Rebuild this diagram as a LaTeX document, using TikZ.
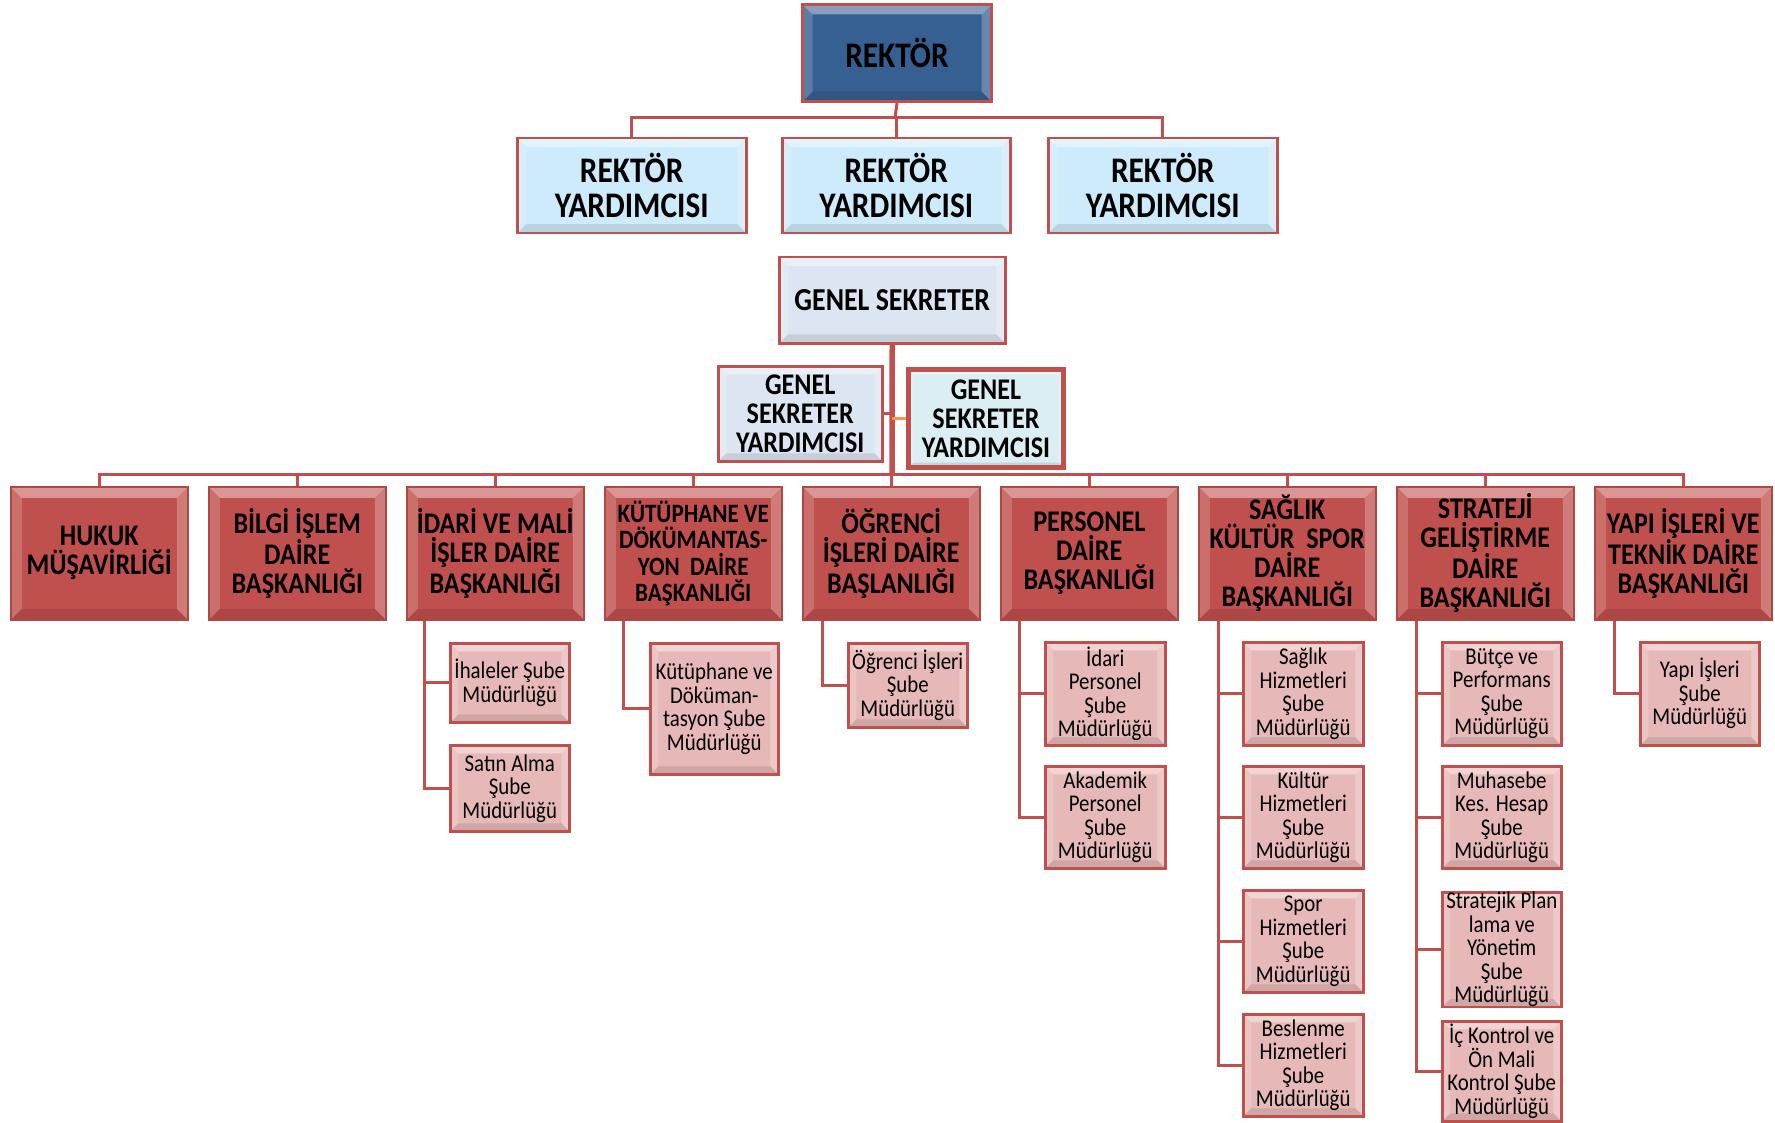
\documentclass[tikz,border=0pt]{standalone}
\usepackage{fontspec}
\setmainfont{Carlito}[FakeStretch=0.87]
\definecolor{bred}{HTML}{C0504D}
\definecolor{subfill}{HTML}{E6B9B8}
\definecolor{ryfill}{HTML}{CDEBFB}
\definecolor{gsfill}{HTML}{DCE6F2}
\definecolor{gsyfill}{HTML}{DAEEF3}
\definecolor{rekfill}{HTML}{376092}
\definecolor{orng}{HTML}{F79646}
\newcommand\Bx[7]{\node[#1,minimum width=#5pt,minimum height=#6pt,anchor=north west] (#2) at (#3,#4) {#7};}
\tikzset{
  bevel/.style={path picture={
    \path (path picture bounding box.north west) coordinate (bNW)
          (path picture bounding box.north east) coordinate (bNE)
          (path picture bounding box.south east) coordinate (bSE)
          (path picture bounding box.south west) coordinate (bSW);
    \fill[white,opacity=.40] (bNW) -- (bNE) -- ([xshift=-#1,yshift=-#1]bNE) -- ([xshift=#1,yshift=-#1]bNW) -- cycle;
    \fill[white,opacity=.18] (bNW) -- ([xshift=#1,yshift=-#1]bNW) -- ([xshift=#1,yshift=#1]bSW) -- (bSW) -- cycle;
    \fill[white,opacity=.25] (bNE) -- (bSE) -- ([xshift=-#1,yshift=#1]bSE) -- ([xshift=-#1,yshift=-#1]bNE) -- cycle;
    \fill[black,opacity=.10] (bSW) -- (bSE) -- ([xshift=-#1,yshift=#1]bSE) -- ([xshift=#1,yshift=#1]bSW) -- cycle;
  }},
  basebox/.style={draw=bred, inner sep=0pt, align=center, text=black},
  rek/.style={basebox, fill=rekfill, line width=3pt, bevel=10pt,
     font=\fontsize{36}{36}\selectfont\bfseries},
  ry/.style={basebox, fill=ryfill, line width=2.5pt, bevel=9pt,
     font=\fontsize{36}{35}\selectfont\bfseries},
  gs/.style={basebox, fill=gsfill, line width=2.5pt, bevel=9pt,
     font=\fontsize{32}{32}\selectfont\bfseries},
  gsy/.style={basebox, fill=gsfill, line width=2.5pt, bevel=8pt,
     font=\fontsize{30}{29}\selectfont\bfseries},
  gsyb/.style={basebox, fill=gsyfill, line width=5pt, bevel=5pt,
     font=\fontsize{30}{29}\selectfont\bfseries},
  dept/.style={basebox, fill=bred, line width=1.5pt, draw=bred!90!black, bevel=11pt,
     font=\fontsize{30}{29}\selectfont\bfseries},
  deptsm/.style={dept, font=\fontsize{26.5}{26.5}\selectfont\bfseries},
  sub/.style={basebox, fill=subfill, line width=2.5pt, bevel=8pt,
     font=\fontsize{24}{23.5}\selectfont},
  conn/.style={draw=bred, line width=3pt},
  trunk/.style={draw=bred, line width=5.5pt},
}
\begin{document}
\begin{tikzpicture}[x=1pt,y=-1pt]
\useasboundingbox (0,0) rectangle (1775,1123);
% top level
\Bx{rek}{rk}{801}{3}{189}{97}{REKTÖR}
\Bx{ry}{ry1}{516}{137}{229}{95}{REKTÖR\\YARDIMCISI}
\Bx{ry}{ry2}{781}{137}{228}{95}{REKTÖR\\YARDIMCISI}
\Bx{ry}{ry3}{1047}{137}{229}{95}{REKTÖR\\YARDIMCISI}
\coordinate (hr) at (895,118);
\draw[conn] (rk.south) -- (hr);
\draw[conn] (ry1.north) |- (hr);
\draw[conn] (ry2.north) |- (hr);
\draw[conn] (ry3.north) |- (hr);
% general secretary
\Bx{gs}{gs}{778}{256}{226}{86}{GENEL SEKRETER}
\Bx{gsy}{gsy1}{717}{365}{164}{95}{GENEL\\SEKRETER\\YARDIMCISI}
\Bx{gsyb}{gsy2}{906}{367}{155}{98}{GENEL\\SEKRETER\\YARDIMCISI}
% departments
\Bx{dept}{d1}{10}{486}{177}{133}{HUKUK\\MÜŞAVİRLİĞİ}
\Bx{dept}{d2}{208}{486}{177}{133}{BİLGİ İŞLEM\\DAİRE\\BAŞKANLIĞI}
\Bx{dept}{d3}{406}{486}{177}{133}{İDARİ VE MALİ\\İŞLER DAİRE\\BAŞKANLIĞI}
\Bx{deptsm}{d4}{604}{486}{177}{133}{KÜTÜPHANE VE\\DÖKÜMANTAS-\\YON\ \ DAİRE\\BAŞKANLIĞI}
\Bx{dept}{d5}{802}{486}{177}{133}{ÖĞRENCİ\\İŞLERİ DAİRE\\BAŞLANLIĞI}
\Bx{dept}{d6}{1000}{486}{177}{133}{PERSONEL\\DAİRE\\BAŞKANLIĞI}
\Bx{dept}{d7}{1198}{486}{177}{133}{SAĞLIK\\KÜLTÜR\ \ SPOR\\DAİRE\\BAŞKANLIĞI}
\Bx{dept}{d8}{1396}{486}{177}{133}{STRATEJİ\\GELİŞTİRME\\DAİRE\\BAŞKANLIĞI}
\Bx{dept}{d9}{1594}{486}{177}{133}{YAPI İŞLERİ VE\\TEKNİK DAİRE\\BAŞKANLIĞI}
\coordinate (hm) at (892,474);
\draw[trunk] (gs.south) -- ([yshift=-1.5pt]hm);
\foreach \d in {d1,d2,d3,d4,d5,d6,d7,d8,d9} {\draw[conn] (\d.north) |- (hm);}
\draw[conn] (gsy1.east) -- (gsy1.east -| gs.south);
\draw[draw=orng, line width=3pt] (gsy2.west) -- (gsy2.west -| gs.south);
% sub units
\Bx{sub}{s31}{449}{642}{119}{79}{İhaleler Şube\\Müdürlüğü}
\Bx{sub}{s32}{449}{744}{119}{86}{Satın Alma\\Şube\\Müdürlüğü}
\Bx{sub}{s41}{649}{642}{128}{131}{Kütüphane ve\\Döküman-\\tasyon Şube\\Müdürlüğü}
\Bx{sub}{s51}{847}{642}{119}{84}{Öğrenci İşleri\\Şube\\Müdürlüğü}
\Bx{sub}{s61}{1044}{641}{120}{103}{İdari\\Personel\\Şube\\Müdürlüğü}
\Bx{sub}{s62}{1044}{765}{120}{102}{Akademik\\Personel\\Şube\\Müdürlüğü}
\Bx{sub}{s71}{1242}{641}{120}{103}{Sağlık\\Hizmetleri\\Şube\\Müdürlüğü}
\Bx{sub}{s72}{1242}{765}{120}{102}{Kültür\\Hizmetleri\\Şube\\Müdürlüğü}
\Bx{sub}{s73}{1242}{889}{120}{102}{Spor\\Hizmetleri\\Şube\\Müdürlüğü}
\Bx{sub}{s74}{1242}{1013}{120}{102}{Beslenme\\Hizmetleri\\Şube\\Müdürlüğü}
\Bx{sub}{s81}{1441}{641}{119}{103}{Bütçe ve\\Performans\\Şube\\Müdürlüğü}
\Bx{sub}{s82}{1441}{765}{119}{102}{Muhasebe\\Kes. Hesap\\Şube\\Müdürlüğü}
\Bx{sub}{s83}{1441}{891}{119}{106}{Stratejik Plan\\lama ve\\Yönetim\\Şube\\Müdürlüğü}
\Bx{sub}{s84}{1441}{1020}{119}{100}{İç Kontrol ve\\Ön Mali\\Kontrol Şube\\Müdürlüğü}
\Bx{sub}{s91}{1639}{641}{119}{103}{Yapı İşleri\\Şube\\Müdürlüğü}
\draw[conn] ([xshift=18pt]d3.south west) |- (s31.west);
\draw[conn] ([xshift=18pt]d3.south west) |- (s32.west);
\draw[conn] ([xshift=19pt]d4.south west) |- (s41.west);
\draw[conn] ([xshift=20pt]d5.south west) |- (s51.west);
\draw[conn] ([xshift=19pt]d6.south west) |- (s61.west);
\draw[conn] ([xshift=19pt]d6.south west) |- (s62.west);
\foreach \s in {s71,s72,s73,s74} {\draw[conn] ([xshift=20pt]d7.south west) |- (\s.west);}
\foreach \s in {s81,s82,s83,s84} {\draw[conn] ([xshift=20pt]d8.south west) |- (\s.west);}
\draw[conn] ([xshift=20pt]d9.south west) |- (s91.west);
\end{tikzpicture}
\end{document}
